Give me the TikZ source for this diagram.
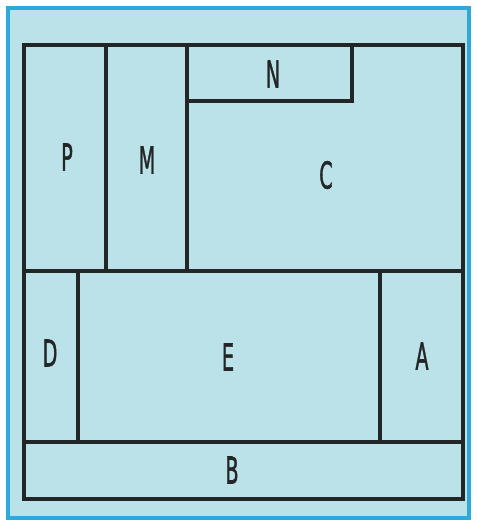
\documentclass[tikz,border=0pt]{standalone}
\usepackage{fontspec}
\setmainfont{DejaVu Sans}
\newfontfamily\letterfont[FakeBold=1.6]{DejaVu Sans}
\definecolor{panelblue}{RGB}{188,226,233}
\definecolor{borderblue}{RGB}{45,170,218}
\definecolor{ink}{RGB}{35,38,38}

\begin{document}
\begin{tikzpicture}[
    x=1pt, y=-1pt, % pixel-like units, y pointing down
    panel/.style={fill=panelblue, draw=borderblue, line width=3.2pt}, % Style for the blue card
    wall/.style={draw=ink, line width=3.4pt, line cap=rect}, % Style for the black lines
    labelstyle/.style={text=ink, font=\letterfont\fontsize{37}{40}\selectfont, xscale=0.52} % Style for the letters
]

    % Page with white margin
    \useasboundingbox (0,0) rectangle (477,520);
    \fill[white] (0,0) rectangle (477,520);

    % Blue card
    \draw[panel] (8,8) rectangle (469,518);

    % Outer frame
    \coordinate (TL) at (24,45);
    \coordinate (BR) at (463,499);
    \draw[wall] (TL) rectangle (BR);

    % Horizontal dividers (full width)
    \foreach \y in {271, 442} {
        \draw[wall] (24,\y) -- (463,\y);
    }

    % Upper dividers (P | M | C)
    \foreach \x in {106, 187} {
        \draw[wall] (\x,45) -- (\x,271);
    }

    % Lower dividers (D | E | A)
    \foreach \x in {78, 380} {
        \draw[wall] (\x,271) -- (\x,442);
    }

    % Box N in the top of C
    \draw[wall] (187,101) -- (352,101) -- (352,45);

    % Labels
    \node[labelstyle] (p) at (67,157) {P};
    \node[labelstyle] (m) at (147,160) {M};
    \node[labelstyle] (n) at (273,74) {N};
    \node[labelstyle] (c) at (326,175) {C};
    \node[labelstyle] (d) at (50,353) {D};
    \node[labelstyle] (e) at (228,357) {E};
    \node[labelstyle] (a) at (422,356) {A};
    \node[labelstyle] (b) at (232,470) {B};

\end{tikzpicture}
\end{document}
